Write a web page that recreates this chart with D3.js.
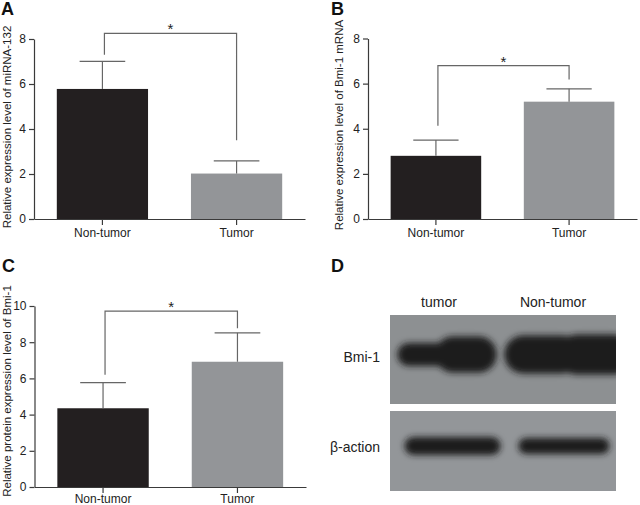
<!DOCTYPE html>
<html>
<head>
<meta charset="utf-8">
<script src="https://cdn.jsdelivr.net/npm/d3@7"></script>
<style>
  body { margin: 0; background: #fff; }
  svg { display: block; font-family: "Liberation Sans", Arial, sans-serif; }
</style>
</head>
<body>
<div id="main"></div>
<script>
// Grupos y colores de las barras
var groups = ["Non-tumor", "Tumor"];
var barColors = ["#231f20", "#939598"];

// A: miRNA-132
var mirnaMean = [5.78, 2.02];
var mirnaSd = [1.23, 0.56];
var mirnaTicks = [0, 2, 4, 6, 8];
var mirnaBracket = [8.25, 7.3, 3.5]; // arriba, pata izquierda, pata derecha

// B: Bmi-1 mRNA
var bmiMrnaMean = [2.8, 5.2];
var bmiMrnaSd = [0.7, 0.57];
var bmiMrnaTicks = [0, 2, 4, 6, 8];
var bmiMrnaBracket = [6.8, 4.13, 6.18];

// C: proteina Bmi-1
var bmiProtMean = [4.35, 6.92];
var bmiProtSd = [1.42, 1.6];
var bmiProtTicks = [0, 2, 4, 6, 8, 10];
var bmiProtBracket = [9.72, 6.2, 8.77];

// D: western blot
var blotLanes = ["tumor", "Non-tumor"];
var blotRows = ["Bmi-1", "\u03b2-action"];
// señal relativa (mitad izquierda, mitad derecha) de cada banda
var bmiSignal = [[0.58, 0.9], [0.95, 1.0]];
var actinSignal = [[0.45, 0.45], [0.4, 0.4]];

var svg = d3.select("#main").append("svg")
  .attr("width", 640)
  .attr("height", 505);

/**
* Dibuja un panel de barras con error y corchete de significancia
**/
function dibujarPanel(p) {
  var x = d3.scaleBand().domain(groups)
    .range([p.x0, p.x1]).paddingInner(0.32).paddingOuter(0.17);
  var y = d3.scaleLinear().domain([0, p.max]).range([p.yBottom, p.yTop]);
  var g = svg.append("g");

  // barras
  g.selectAll("rect.bar").data(groups).enter().append("rect")
    .attr("class", "bar")
    .attr("x", function(d) { return x(d); })
    .attr("width", x.bandwidth())
    .attr("y", function(d, i) { return y(p.mean[i]); })
    .attr("height", function(d, i) { return y(0) - y(p.mean[i]); })
    .attr("fill", function(d, i) { return barColors[i]; });

  // barras de error (solo hacia arriba)
  groups.forEach(function(d, i) {
    var cx = x(d) + x.bandwidth() / 2;
    var top = y(p.mean[i] + p.sd[i]);
    g.append("line")
      .attr("x1", cx).attr("x2", cx)
      .attr("y1", y(p.mean[i])).attr("y2", top)
      .attr("stroke", "#666").attr("stroke-width", 1.2);
    g.append("line")
      .attr("x1", cx - x.bandwidth() / 4).attr("x2", cx + x.bandwidth() / 4)
      .attr("y1", top).attr("y2", top)
      .attr("stroke", "#666").attr("stroke-width", 1.2);
  });

  // corchete de significancia
  var bx1 = x(groups[0]) + x.bandwidth() / 2 + 2;
  var bx2 = x(groups[1]) + x.bandwidth() / 2;
  g.append("path")
    .attr("d", "M" + bx1 + "," + y(p.bracket[1]) + "V" + y(p.bracket[0]) +
      "H" + bx2 + "V" + y(p.bracket[2]))
    .attr("fill", "none").attr("stroke", "#666").attr("stroke-width", 1.2);
  g.append("text")
    .attr("x", (bx1 + bx2) / 2)
    .attr("y", y(p.bracket[0]) + 1)
    .attr("text-anchor", "middle")
    .attr("font-size", 15)
    .attr("fill", "#222")
    .text("*");

  // eje Y
  var yAxis = g.append("g")
    .attr("transform", "translate(" + p.x0 + ",0)")
    .call(d3.axisLeft(y).tickValues(p.ticks).tickSize(5).tickSizeOuter(0).tickPadding(3));
  // eje X
  var xAxis = g.append("g")
    .attr("transform", "translate(0," + p.yBottom + ")")
    .call(d3.axisBottom(x).tickSize(6).tickSizeOuter(0).tickPadding(p.xPad));
  [yAxis, xAxis].forEach(function(a) {
    a.select(".domain").attr("stroke", "#3a3a3a").attr("stroke-width", 1.2);
    a.selectAll(".tick line").attr("stroke", "#3a3a3a").attr("stroke-width", 1.2);
    a.selectAll("text").attr("font-size", 12).attr("fill", "#222")
      .attr("font-family", "Liberation Sans, Arial, sans-serif");
  });

  // titulo del eje Y
  g.append("text")
    .attr("transform", "translate(" + p.labelX + "," + p.labelY + ") rotate(-90)")
    .attr("text-anchor", "middle")
    .attr("dy", "0.35em")
    .attr("font-size", 11.5)
    .attr("fill", "#222")
    .text(p.label);

  // letra del panel
  g.append("text")
    .attr("x", p.letterX).attr("y", p.letterY)
    .attr("font-size", 18).attr("font-weight", "bold").attr("fill", "#111")
    .text(p.letter);
}

dibujarPanel({
  letter: "A", letterX: 1, letterY: 15,
  x0: 34, x1: 305, yTop: 39, yBottom: 219, max: 8, xPad: 3,
  mean: mirnaMean, sd: mirnaSd, ticks: mirnaTicks, bracket: mirnaBracket,
  label: "Relative expression level of miRNA-132", labelX: 7, labelY: 127
});

dibujarPanel({
  letter: "B", letterX: 331, letterY: 15,
  x0: 368, x1: 637, yTop: 38.5, yBottom: 219, max: 8, xPad: 3,
  mean: bmiMrnaMean, sd: bmiMrnaSd, ticks: bmiMrnaTicks, bracket: bmiMrnaBracket,
  label: "Relative expression level of Bmi-1 mRNA", labelX: 339, labelY: 125
});

dibujarPanel({
  letter: "C", letterX: 2, letterY: 271.5,
  x0: 34.5, x1: 306, yTop: 306, yBottom: 487, max: 10, xPad: 1,
  mean: bmiProtMean, sd: bmiProtSd, ticks: bmiProtTicks, bracket: bmiProtBracket,
  label: "Relative protein expression level of Bmi-1", labelX: 7, labelY: 391
});

/**
* Panel D: western blot
**/
var blot = svg.append("g");
blot.append("text")
  .attr("x", 331).attr("y", 271.5)
  .attr("font-size", 18).attr("font-weight", "bold").attr("fill", "#111")
  .text("D");

var defs = svg.append("defs");
defs.append("filter").attr("id", "blur")
  .attr("x", "-20%").attr("y", "-60%").attr("width", "140%").attr("height", "220%")
  .append("feGaussianBlur").attr("stdDeviation", 3);

var laneX = d3.scaleBand().domain(blotLanes).range([390, 616])
  .paddingInner(0.06).paddingOuter(0.04);
var rowY = d3.scaleOrdinal().domain(blotRows).range([[315, 404], [411, 491]]);
var rowFill = d3.scaleOrdinal().domain(blotRows).range(["#8d9092", "#939699"]);
var thickness = d3.scaleLinear().domain([0, 1]).range([0, 40]);
var rowSignals = [bmiSignal, actinSignal];
// desplazamiento de la banda dentro del carril, por fila
var rowInset = [[3, -2], [10, 12]];
var rowWidth = [[-6, 24], [-9, -14]];

blotRows.forEach(function(row, r) {
  var yr = rowY(row);
  var cy = (yr[0] + yr[1]) / 2 - 5;
  defs.append("clipPath").attr("id", "clip" + r)
    .append("rect").attr("x", 390).attr("y", yr[0])
    .attr("width", 226).attr("height", yr[1] - yr[0]);

  blot.append("rect")
    .attr("x", 390).attr("y", yr[0])
    .attr("width", 226).attr("height", yr[1] - yr[0])
    .attr("fill", rowFill(row));

  var bands = blot.append("g").attr("clip-path", "url(#clip" + r + ")")
    .append("g").attr("filter", "url(#blur)");

  blotLanes.forEach(function(lane, l) {
    var sig = rowSignals[r][l];
    var x0 = laneX(lane) + rowInset[r][l];
    var w = laneX.bandwidth() + rowWidth[r][l];
    var half = w / 2;
    // mitad izquierda y mitad derecha de la banda
    [0, 1].forEach(function(h) {
      var t = thickness(sig[h]);
      bands.append("rect")
        .attr("x", x0 + h * (half - 12))
        .attr("width", half + 12)
        .attr("y", cy - t / 2)
        .attr("height", t)
        .attr("rx", t / 2)
        .attr("ry", t / 2)
        .attr("fill", "#1c1c1c");
    });
  });

  // etiqueta de la fila
  blot.append("text")
    .attr("x", 380).attr("y", r === 0 ? 361.5 : 452)
    .attr("text-anchor", "end")
    .attr("font-size", 14).attr("fill", "#222")
    .text(row);
});

blotLanes.forEach(function(lane, l) {
  blot.append("text")
    .attr("x", l === 0 ? 439 : 553).attr("y", 307)
    .attr("text-anchor", "middle")
    .attr("font-size", 14).attr("fill", "#222")
    .text(lane);
});
</script>
</body>
</html>
